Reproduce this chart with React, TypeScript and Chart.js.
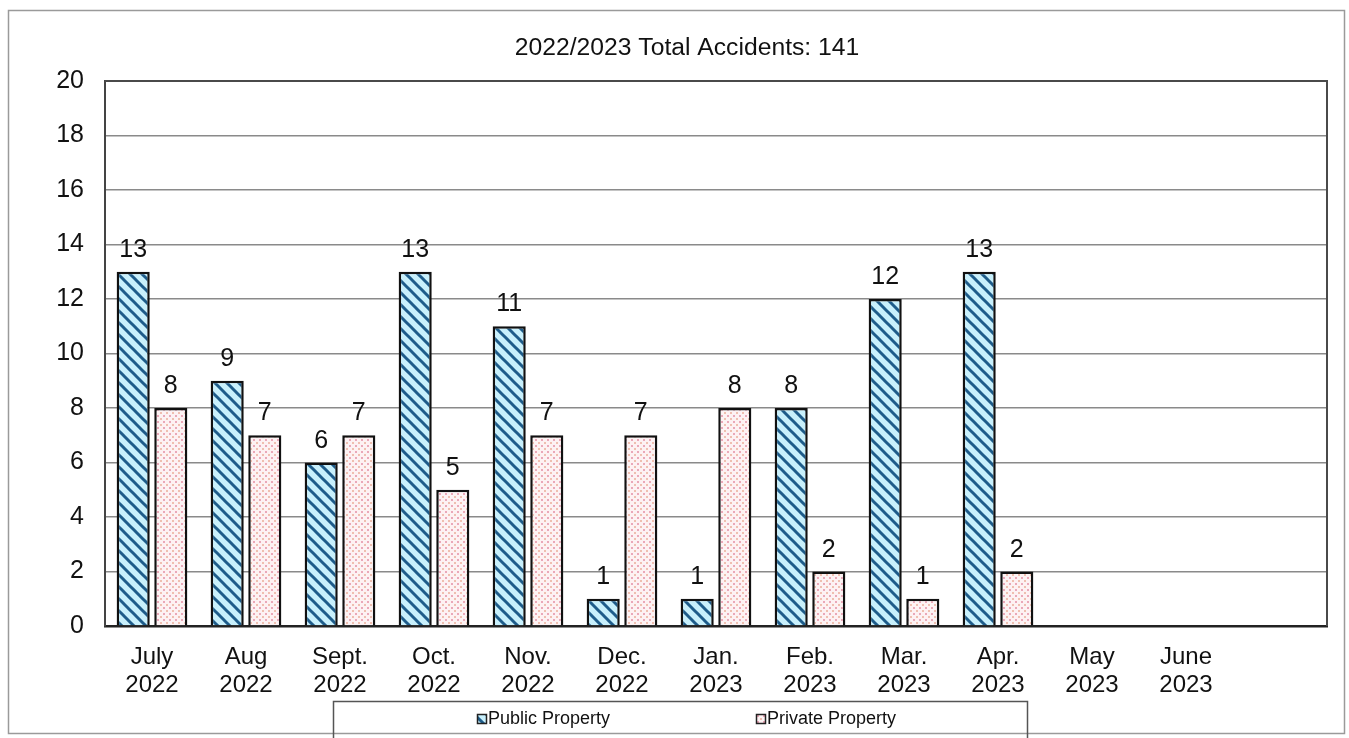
import React, { useEffect, useRef } from "react";
import { Chart, registerables } from "chart.js";

Chart.register(...registerables);

const titleText = "2022/2023 Total Accidents: 141";
const categories: (string | string[])[] = [
  ["July", "2022"],
  ["Aug", "2022"],
  ["Sept.", "2022"],
  ["Oct.", "2022"],
  ["Nov.", "2022"],
  ["Dec.", "2022"],
  ["Jan.", "2023"],
  ["Feb.", "2023"],
  ["Mar.", "2023"],
  ["Apr.", "2023"],
  ["May", "2023"],
  ["June", "2023"],
  "",
];
const publicProperty = [13, 9, 6, 13, 11, 1, 1, 8, 12, 13, null, null, null];
const privateProperty = [8, 7, 7, 5, 7, 7, 8, 2, 1, 2, null, null, null];
const seriesNames = ["Public Property", "Private Property"];
const yMin = 0;
const yMax = 20;
const yStep = 2;

const FONT = "'Liberation Sans', Arial, sans-serif";

function makeStripe(ctx: CanvasRenderingContext2D): CanvasPattern | string {
  const c = document.createElement("canvas");
  const s = 12;
  c.width = s;
  c.height = s;
  const g = c.getContext("2d");
  if (!g) return "#c9f0fb";
  g.fillStyle = "#c8f0fc";
  g.fillRect(0, 0, s, s);
  g.strokeStyle = "#1e5c8a";
  g.lineWidth = 3;
  for (let x = -s; x <= s; x += s) {
    g.beginPath();
    g.moveTo(x - 2, -2);
    g.lineTo(x + s + 2, s + 2);
    g.stroke();
  }
  return ctx.createPattern(c, "repeat") || "#c9f0fb";
}

function makeDots(ctx: CanvasRenderingContext2D): CanvasPattern | string {
  const c = document.createElement("canvas");
  const s = 6;
  c.width = s;
  c.height = s;
  const g = c.getContext("2d");
  if (!g) return "#fbe9ee";
  g.fillStyle = "#fdf2f3";
  g.fillRect(0, 0, s, s);
  g.fillStyle = "#eaa8b8";
  g.fillRect(1, 1, 2, 2);
  g.fillStyle = "#efbfb0";
  g.fillRect(4, 4, 2, 2);
  return ctx.createPattern(c, "repeat") || "#fbe9ee";
}

const decorPlugin = {
  id: "decor",
  beforeDraw(chart: any) {
    const ctx = chart.ctx;
    ctx.save();
    ctx.fillStyle = "#ffffff";
    ctx.fillRect(0, 0, chart.width, chart.height);
    ctx.strokeStyle = "#9a9a9a";
    ctx.lineWidth = 1.5;
    ctx.strokeRect(8.5, 10.5, 1336, 723);
    ctx.restore();
  },
  afterDraw(chart: any) {
    const ctx = chart.ctx;
    const area = chart.chartArea;
    ctx.save();
    // plot frame top/right
    ctx.strokeStyle = "#4a4a4a";
    ctx.lineWidth = 2;
    ctx.beginPath();
    ctx.moveTo(area.left, area.top);
    ctx.lineTo(area.right, area.top);
    ctx.lineTo(area.right, area.bottom);
    ctx.stroke();
    // title
    ctx.fillStyle = "#111";
    ctx.font = `24.7px ${FONT}`;
    ctx.textAlign = "center";
    ctx.textBaseline = "middle";
    ctx.fillText(titleText, 687, 48);
    // legend frame
    ctx.strokeStyle = "#555";
    ctx.lineWidth = 1.5;
    ctx.strokeRect(333.5, 701.5, 694, 40);
    // legend items
    const items = [
      { x: 477, fill: chart.data.datasets[0].backgroundColor, text: seriesNames[0] },
      { x: 756, fill: chart.data.datasets[1].backgroundColor, text: seriesNames[1] },
    ];
    ctx.font = `18px ${FONT}`;
    ctx.textAlign = "left";
    items.forEach((it) => {
      ctx.fillStyle = it.fill;
      ctx.fillRect(it.x, 714, 9, 9);
      ctx.strokeStyle = "#222";
      ctx.lineWidth = 1.5;
      ctx.strokeRect(it.x + 0.5, 714.5, 9, 9);
      ctx.fillStyle = "#111";
      ctx.fillText(it.text, it.x + 11, 719);
    });
    ctx.restore();
  },
  afterDatasetsDraw(chart: any) {
    const ctx = chart.ctx;
    ctx.save();
    ctx.fillStyle = "#111";
    ctx.font = `25px ${FONT}`;
    ctx.textAlign = "center";
    ctx.textBaseline = "alphabetic";
    chart.data.datasets.forEach((ds: any, di: number) => {
      const meta = chart.getDatasetMeta(di);
      meta.data.forEach((el: any, i: number) => {
        const v = ds.data[i];
        if (v === null || v === undefined) return;
        ctx.fillText(String(v), el.x, el.y - 15);
      });
    });
    ctx.restore();
  },
};

export default function App() {
  const ref = useRef<HTMLCanvasElement | null>(null);
  useEffect(() => {
    const canvas = ref.current;
    if (!canvas) return;
    const ctx = canvas.getContext("2d");
    if (!ctx) return;
    const stripe = makeStripe(ctx);
    const dots = makeDots(ctx);
    const chart = new Chart(canvas, {
      type: "bar",
      data: {
        labels: categories,
        datasets: [
          {
            label: seriesNames[0],
            data: publicProperty,
            backgroundColor: stripe as any,
            borderColor: "#111",
            borderWidth: 2.5,
            categoryPercentage: 0.8,
            barPercentage: 0.88,
          },
          {
            label: seriesNames[1],
            data: privateProperty,
            backgroundColor: dots as any,
            borderColor: "#111",
            borderWidth: 2.5,
            categoryPercentage: 0.8,
            barPercentage: 0.88,
          },
        ],
      },
      options: {
        animation: false,
        responsive: false,
        devicePixelRatio: 1,
        layout: { padding: { left: 0, top: 81, right: 22, bottom: 0 } },
        plugins: {
          legend: { display: false },
          title: { display: false },
          tooltip: { enabled: false },
        },
        scales: {
          x: {
            grid: { display: false, drawTicks: false },
            border: { display: true, color: "#222", width: 2.5 },
            ticks: {
              color: "#111",
              font: { family: FONT, size: 24, lineHeight: 1.17 },
              padding: 17,
              maxRotation: 0,
              autoSkip: false,
            },
            afterFit(scale: any) {
              scale.height = 112;
            },
          },
          y: {
            min: yMin,
            max: yMax,
            ticks: {
              stepSize: yStep,
              color: "#111",
              font: { family: FONT, size: 25 },
              padding: 21,
            },
            grid: { color: "#8a8a8a", lineWidth: 1.5, drawTicks: false },
            border: { display: true, color: "#444", width: 2 },
            afterFit(scale: any) {
              scale.width = 105;
            },
          },
        },
      },
      plugins: [decorPlugin],
    });
    return () => chart.destroy();
  }, []);
  return (
    <div style={{ position: "absolute", left: 0, top: 0, width: 1349, height: 738, background: "#fff" }}>
      <canvas ref={ref} width={1349} height={738} style={{ display: "block" }} />
    </div>
  );
}
